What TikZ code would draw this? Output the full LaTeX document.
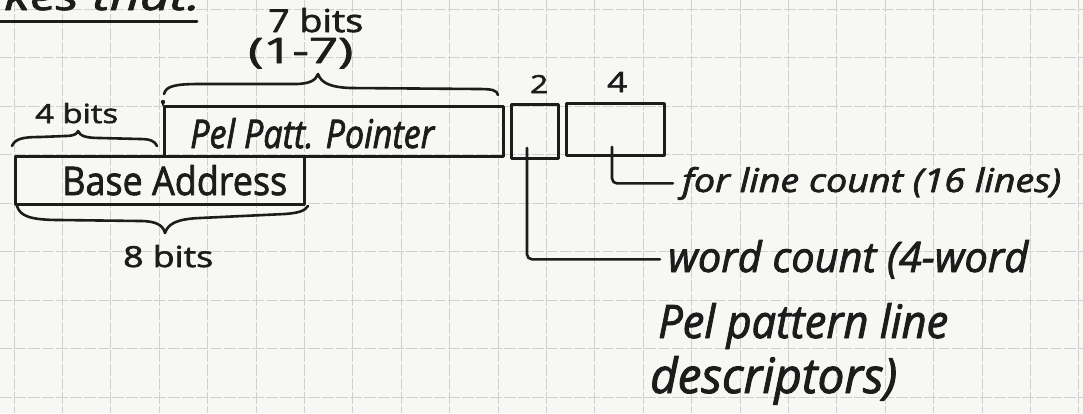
\documentclass[tikz,border=0pt]{standalone}
\usepackage{fontspec}
\setmainfont{Open Sans}
\usepackage{graphicx}
\definecolor{ink}{HTML}{1C1C1C}
\definecolor{paper}{HTML}{F7F7F4}
\definecolor{gridc}{HTML}{D0D0D0}
\newcommand{\hw}[3]{\resizebox{#1pt}{#2pt}{\special{pdf:literal direct 2 Tr 0.2 w 1 j}#3\special{pdf:literal direct 0 Tr}}}
\begin{document}
\begin{tikzpicture}[x=1pt,y=-1pt,
  inkline/.style={draw=ink,line width=2.6pt,line cap=round,line join=round},
  field/.style={inkline,rectangle,inner sep=0pt,anchor=north west},
  hand/.style={inner sep=0pt,anchor=base west,text=ink},
  wire/.style={inkline,rounded corners=5pt},
  gridline/.style={draw=gridc,line width=0.8pt,dash pattern=on 12pt off 2pt}]
\useasboundingbox (0,0) rectangle (1083,413);
\clip (0,0) rectangle (1083,413);
\fill[paper] (0,0) rectangle (1083,413);
% graph paper
\foreach \k in {0,...,22} {\draw[gridline] ({14+48.4*\k},0) -- ({14+48.4*\k},413);}
\foreach \k in {0,...,8} {\draw[gridline] (0,{9+48.5*\k}) -- (1083,{9+48.5*\k});}
% heading remnant
\node[hand] (top) at (4,10) {\hw{196}{30}{\itshape kes that:}};
\draw[inkline,line width=3pt] (0,21) -- (197,21);
% fields
\node[field,minimum width=339pt,minimum height=50pt] (pel) at (163,105) {};
\node[field,minimum width=289pt,minimum height=48pt] (base) at (14,155) {};
\node[field,minimum width=47pt,minimum height=54pt] (b2) at (510,103) {};
\node[field,minimum width=98pt,minimum height=52pt] (b4) at (565,102) {};
\draw[inkline] (pel.north west) -- ++(0,-3);
\fill[ink] (pel.north west) ++(0,-3) circle (2.2pt);
% labels
\node[hand] (pelt) at (190,148) {\hw{244}{30}{\itshape Pel Patt. Pointer}};
\node[hand] (baset) at (62,195) {\hw{225}{30}{Base Address}};
\node[hand] (four) at (35,123) {\hw{83}{20}{4 bits}};
\node[hand] (eight) at (123,267) {\hw{90}{22}{8 bits}};
\node[hand] (seven) at (268,32) {\hw{95}{24}{7 bits}};
\node[hand] (range) at (248,63) {\hw{105}{25}{(1-7)}};
\node[hand] (n2) at (530,93) {\hw{18}{18}{2}};
\node[hand] (n4) at (607,92) {\hw{20}{20}{4}};
\node[hand] (flc) at (682,192) {\hw{379}{25}{\itshape for line count (16 lines)}};
\node[hand] (wc) at (668,272) {\hw{360}{32}{\itshape word count (4-word}};
\node[hand] (ppl) at (658,338) {\hw{290}{35}{\itshape Pel pattern line}};
\node[hand] (desc) at (650,393) {\hw{247}{37}{\itshape descriptors)}};
% braces
\draw[inkline] (164,94) .. controls (166,86) and (175,84) .. (200,84) -- (295,84)
  .. controls (310,84) and (316,80) .. (318,74) .. controls (321,82) and (328,87) .. (350,88)
  -- (478,89) .. controls (492,89) and (497,90) .. (498,95);
\draw[inkline] (12,146) .. controls (15,139) and (22,137) .. (40,137) -- (65,136)
  .. controls (74,136) and (77,134) .. (78,131) .. controls (80,136) and (86,138) .. (100,138)
  -- (140,139) .. controls (150,139) and (155,141) .. (157,146);
\draw[inkline] (17,206) .. controls (20,216) and (30,220) .. (60,220) -- (140,221)
  .. controls (156,221) and (163,225) .. (165,233) .. controls (168,224) and (176,219) .. (200,218)
  -- (285,214) .. controls (298,213) and (305,211) .. (308,206);
% connectors
\coordinate (c2) at (527,148);
\coordinate (c4) at (612,147);
\draw[wire] (c2) |- ([xshift=-8pt]wc.west);
\draw[wire] (c4) |- ([xshift=-9pt]flc.west);
\end{tikzpicture}
\end{document}
